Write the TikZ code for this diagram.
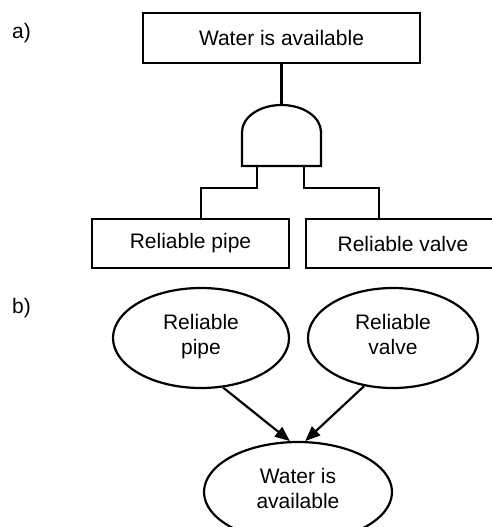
\documentclass[tikz,border=0pt]{standalone}
\usepackage{fontspec}
\setmainfont{Liberation Sans}
\usetikzlibrary{positioning,shapes.geometric,arrows.meta}
\begin{document}
\begin{tikzpicture}[node distance=1.5cm, on grid, line width=2.2pt,
    font=\fontsize{21}{25}\selectfont,
    box/.style={draw, rectangle, minimum height=49pt},
    oval/.style={draw, ellipse, minimum height=100pt, align=center, inner sep=0pt,
        execute at begin node=\strut, execute at end node=\strut},
    arr/.style={-{Triangle[length=15pt,width=12pt]}}]
    \useasboundingbox (0,0) rectangle (492pt,-527pt);
    \clip (0,0) rectangle (492pt,-527pt);
    % a) fault tree
    \node[anchor=base west, inner sep=0pt] (a) at (11pt,-39pt) {a)};
    \node[box, minimum width=277pt, minimum height=50pt] (water) at (281.5pt,-38pt) {Water is available};
    \node[box, minimum width=197pt, below left=205.5pt and 91pt of water] (pipe) {Reliable pipe};
    \node[box, minimum width=194pt, right=212.5pt of pipe] (valve) {Reliable valve};
    \coordinate[below=128pt of water] (and);
    \draw ([xshift=-39.5pt]and) -- ++(0,34pt) arc[start angle=180, end angle=0, x radius=39.5pt, y radius=27pt] -- ++(0,-34pt) -- cycle;
    \draw (water.south) -- ([yshift=61pt]and);
    \draw ([xshift=-24.5pt]and) -- ++(0,-22pt) -| ([xshift=10.5pt]pipe.north);
    \draw ([xshift=22.5pt]and) -- ++(0,-22pt) -| ([xshift=-24pt]valve.north);
    % b) network
    \node[anchor=base west, inner sep=0pt] (b) at (11pt,-313pt) {b)};
    \node[oval, minimum width=176pt, below right=94.5pt and 10.5pt of pipe] (pipe2) {Reliable\\pipe};
    \node[oval, minimum width=170pt, right=192pt of pipe2] (valve2) {Reliable\\valve};
    \node[oval, minimum width=188pt, below right=154pt and 97pt of pipe2] (water2) {Water is\\available};
    \draw[arr] (pipe2.-66) -- (water2.99);
    \draw[arr] (valve2.-121) -- (water2.82);
\end{tikzpicture}
\end{document}
